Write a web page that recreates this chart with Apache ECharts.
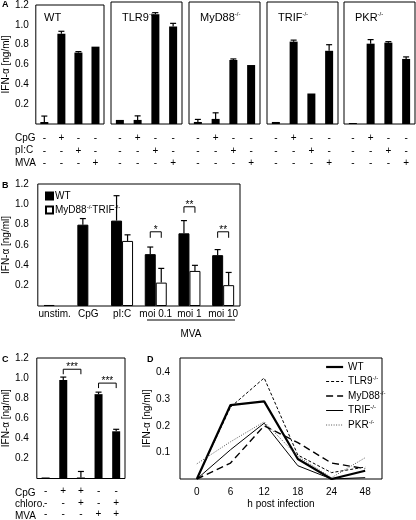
<!DOCTYPE html>
<html><head><meta charset="utf-8">
<script src="https://cdn.jsdelivr.net/npm/echarts@6/dist/echarts.min.js"></script>
<style>html,body{margin:0;padding:0;background:#fff}#c{width:416px;height:520px}</style>
</head><body><div id="c"></div>
<script>
// ---------- DATA ----------
// Panel A
const aNames = ['WT', 'TLR9', 'MyD88', 'TRIF', 'PKR'];
const aSup = ['', '-/-', '-/-', '-/-', '-/-'];
const aCats = ['c1', 'c2', 'c3', 'c4'];
const aCpG = ['-', '+', '-', '-'];
const aPIC = ['-', '-', '+', '-'];
const aMVA = ['-', '-', '-', '+'];
const aRowLabels = ['CpG', 'pI:C', 'MVA'];
const aWT = [0.02, 0.91, 0.72, 0.78];
const aWTErr = [0.06, 0.025, 0.01, 0];
const aTLR9 = [0.04, 0.04, 1.08, 0.96];
const aTLR9Err = [0, 0.04, 0.015, 0.03];
const aMyD88 = [0.02, 0.05, 0.63, 0.58];
const aMyD88Err = [0.025, 0.06, 0.01, 0];
const aTRIF = [0.02, 0.81, 0.30, 0.72];
const aTRIFErr = [0, 0.015, 0, 0.06];
const aPKR = [0.01, 0.79, 0.80, 0.64];
const aPKRErr = [0, 0.04, 0.01, 0.02];
// Panel B
const bCats = ['unstim.', 'CpG', 'pI:C', 'moi 0.1', 'moi 1', 'moi 10'];
const bWT = [0.01, 0.80, 0.84, 0.51, 0.715, 0.50];
const bWTErr = [0, 0.06, 0.245, 0.07, 0.125, 0.055];
const bKO = [null, null, 0.64, 0.23, 0.345, 0.205];
const bKOErr = [0, 0, 0.06, 0.14, 0.055, 0.125];
const bSigCat = [3, 4, 5];
const bSigLevel = [0.73, 0.976, 0.73];
const bSigLabel = ['*', '**', '**'];
// Panel C
const cCats = ['c1', 'c2', 'c3', 'c4', 'c5'];
const cCpG = ['-', '+', '+', '-', '-'];
const cChloro = ['-', '-', '+', '-', '+'];
const cMVA = ['-', '-', '-', '+', '+'];
const cRowLabels = ['CpG', 'chloro.', 'MVA'];
const cVals = [0.01, 0.98, 0.01, 0.84, 0.47];
const cErr = [0, 0.03, 0.06, 0.02, 0.02];
const cSigFrom = [1, 3];
const cSigTo = [2, 4];
const cSigLevel = [1.088, 0.95];
const cSigLabel = ['***', '***'];
// Panel D
const dHours = ['0', '6', '12', '18', '24', '48'];
const dWT = [0, 0.278, 0.292, 0.075, 0, 0.031];
const dTLR9 = [0, 0.27, 0.38, 0.09, 0.024, 0.045];
const dMyD88 = [0, 0.06, 0.2, 0.137, 0.06, 0.039];
const dTRIF = [0, 0.11, 0.21, 0.05, 0, 0.005];
const dPKR = [0.057, 0.14, 0.215, 0.085, 0.005, 0.08];
const yTitle = 'IFN-\u03b1 [ng/ml]';

// ---------- LAYOUT / STYLE ----------
const FF = '"Liberation Sans", Arial, Helvetica, sans-serif';
const aVals = [aWT, aTLR9, aMyD88, aTRIF, aPKR];
const aErrs = [aWTErr, aTLR9Err, aMyD88Err, aTRIFErr, aPKRErr];
const aLeft = [33, 111, 189, 267, 344];
const supRich = {
  n: {fontSize: 10, color: '#000', fontFamily: FF, lineHeight: 12},
  s: {fontSize: 6, color: '#000', fontFamily: FF, verticalAlign: 'top', lineHeight: 12}
};
const titleRich = {
  n: {fontSize: 11, color: '#000', fontFamily: FF, fontWeight: 'normal', lineHeight: 14},
  s: {fontSize: 6, color: '#000', fontFamily: FF, fontWeight: 'normal', verticalAlign: 'top', lineHeight: 14}
};

function errRender(offset) {
  return function (params, api) {
    const x = api.value(0), v = api.value(1), e = api.value(2);
    if (v == null || isNaN(v) || !e) return null;
    const p0 = api.coord([x, v]), p1 = api.coord([x, v + e]);
    const cx = p0[0] + offset, w = 3;
    return {type: 'group', children: [
      {type: 'line', shape: {x1: cx, y1: p0[1], x2: cx, y2: p1[1]}, style: {stroke: '#000', lineWidth: 1.2}},
      {type: 'line', shape: {x1: cx - w, y1: p1[1], x2: cx + w, y2: p1[1]}, style: {stroke: '#000', lineWidth: 1.2}}
    ]};
  };
}

const grids = [], xAxes = [], yAxes = [], series = [], titles = [];
const valAxisBase = (gi, showLabels, max, nameGap, showName) => ({
  type: 'value', gridIndex: gi, min: 0, max: max, interval: max > 1 ? 0.2 : 0.1,
  splitLine: {show: false}, axisTick: {show: false}, axisLine: {show: false},
  axisLabel: {show: showLabels, showMinLabel: false, showMaxLabel: max > 1, color: '#000', fontSize: 10, fontFamily: FF,
    margin: 7, formatter: v => v.toFixed(1)},
  name: showName ? yTitle : '', nameLocation: 'middle', nameGap: nameGap,
  nameTextStyle: {color: '#000', fontSize: 10, fontFamily: FF}
});

// Panel A
aNames.forEach((g, i) => {
  grids.push({left: aLeft[i], top: 2, width: 71, height: 122, show: true, borderColor: '#000', borderWidth: 1, backgroundColor: 'transparent'});
  xAxes.push({type: 'category', gridIndex: i, data: aCats, axisTick: {show: false}, axisLine: {show: false},
    axisLabel: {interval: 0, color: '#000', fontSize: 10, fontFamily: FF, lineHeight: 12.5, margin: 8,
      formatter: (v, idx) => aCpG[idx] + '\n' + aPIC[idx] + '\n' + aMVA[idx]}});
  yAxes.push(valAxisBase(i, i === 0, 1.2, 22, i === 0));
  series.push({type: 'bar', xAxisIndex: i, yAxisIndex: i, data: aVals[i], barWidth: 8, itemStyle: {color: '#000'}, silent: true});
  series.push({type: 'custom', xAxisIndex: i, yAxisIndex: i, renderItem: errRender(0), encode: {x: 0, y: 1},
    data: aVals[i].map((v, k) => [k, v, aErrs[i][k]]), z: 5, silent: true});
  titles.push({left: aLeft[i] + 6, top: 6, text: aSup[i] ? `{n|${g}}{s|${aSup[i]}}` : `{n|${g}}`,
    textStyle: {rich: titleRich}});
});

// Panel B (grid 5)
grids.push({left: 35, top: 184, width: 205, height: 122, show: true, borderColor: '#000', borderWidth: 1, backgroundColor: 'transparent'});
xAxes.push({type: 'category', gridIndex: 5, data: bCats, axisTick: {show: false}, axisLine: {show: false},
  axisLabel: {interval: 0, color: '#000', fontSize: 10, fontFamily: FF, margin: 3}});
yAxes.push(valAxisBase(5, true, 1.2, 24, true));
yAxes[5].axisLabel.margin = 9;
series.push({name: 'B:WT', type: 'bar', xAxisIndex: 5, yAxisIndex: 5, data: bWT, barWidth: 11, barGap: '0%',
  itemStyle: {color: '#000', borderColor: '#000', borderWidth: 1}, silent: true});
series.push({name: 'B:KO', type: 'bar', xAxisIndex: 5, yAxisIndex: 5, data: bKO, barWidth: 11, barGap: '0%',
  itemStyle: {color: '#fff', borderColor: '#000', borderWidth: 1}, silent: true});
series.push({type: 'custom', xAxisIndex: 5, yAxisIndex: 5, renderItem: errRender(-5.5), encode: {x: 0, y: 1},
  data: bWT.map((v, k) => [k, v, bWTErr[k]]), z: 5, silent: true});
series.push({type: 'custom', xAxisIndex: 5, yAxisIndex: 5, renderItem: errRender(5.5), encode: {x: 0, y: 1},
  data: bKO.map((v, k) => [k, v == null ? NaN : v, bKOErr[k]]), z: 5, silent: true});
series.push({type: 'custom', xAxisIndex: 5, yAxisIndex: 5, encode: {x: 0, y: 1}, z: 6, silent: true,
  data: bSigCat.map((c, k) => [c, bSigLevel[k]]),
  renderItem: function (params, api) {
    const k = params.dataIndex;
    const p = api.coord([api.value(0), api.value(1)]);
    const h = 5.5, d = 6;
    return {type: 'group', children: [
      {type: 'polyline', shape: {points: [[p[0] - h, p[1] + d], [p[0] - h, p[1]], [p[0] + h, p[1]], [p[0] + h, p[1] + d]]},
        style: {stroke: '#000', fill: null, lineWidth: 1}},
      {type: 'text', x: p[0], y: p[1] + 3, style: {text: bSigLabel[k], align: 'center', verticalAlign: 'bottom',
        fontSize: 10, fontFamily: FF, fill: '#000'}}
    ]};
  }});

// Panel C (grid 6)
grids.push({left: 35, top: 358, width: 90, height: 122, show: true, borderColor: '#000', borderWidth: 1, backgroundColor: 'transparent'});
xAxes.push({type: 'category', gridIndex: 6, data: cCats, axisTick: {show: false}, axisLine: {show: false},
  axisLabel: {interval: 0, color: '#000', fontSize: 10, fontFamily: FF, lineHeight: 11.5, margin: 7,
    formatter: (v, idx) => cCpG[idx] + '\n' + cChloro[idx] + '\n' + cMVA[idx]}});
yAxes.push(valAxisBase(6, true, 1.2, 24, true));
yAxes[6].axisLabel.margin = 8;
series.push({type: 'bar', xAxisIndex: 6, yAxisIndex: 6, data: cVals, barWidth: 8, itemStyle: {color: '#000'}, silent: true});
series.push({type: 'custom', xAxisIndex: 6, yAxisIndex: 6, renderItem: errRender(0), encode: {x: 0, y: 1},
  data: cVals.map((v, k) => [k, v, cErr[k]]), z: 5, silent: true});
series.push({type: 'custom', xAxisIndex: 6, yAxisIndex: 6, encode: {x: 0, y: 2}, z: 6, silent: true,
  data: cSigFrom.map((f, k) => [f, cSigTo[k], cSigLevel[k]]),
  renderItem: function (params, api) {
    const k = params.dataIndex;
    const p1 = api.coord([api.value(0), api.value(2)]);
    const p2 = api.coord([api.value(1), api.value(2)]);
    const d = 5;
    return {type: 'group', children: [
      {type: 'polyline', shape: {points: [[p1[0], p1[1] + d], [p1[0], p1[1]], [p2[0], p2[1]], [p2[0], p2[1] + d]]},
        style: {stroke: '#000', fill: null, lineWidth: 1}},
      {type: 'text', x: (p1[0] + p2[0]) / 2, y: p1[1] + 3, style: {text: cSigLabel[k], align: 'center', verticalAlign: 'bottom',
        fontSize: 10, fontFamily: FF, fill: '#000'}}
    ]};
  }});

// Panel D (grid 7)
grids.push({left: 180, top: 358, width: 202, height: 121, show: true, borderColor: '#000', borderWidth: 1, backgroundColor: 'transparent'});
xAxes.push({type: 'category', gridIndex: 7, data: dHours, boundaryGap: true, axisTick: {show: false}, axisLine: {show: false},
  axisLabel: {interval: 0, color: '#000', fontSize: 10, fontFamily: FF, margin: 8},
  name: 'h post infection', nameLocation: 'middle', nameGap: 20, nameTextStyle: {color: '#000', fontSize: 10, fontFamily: FF}});
const dY = valAxisBase(7, true, 0.455, 27, true);
dY.axisLabel.showMaxLabel = false;
dY.axisLabel.margin = 10;
yAxes.push(dY);
const dSeries = [
  ['D:WT', dWT, {color: '#000', width: 2.2, type: 'solid'}],
  ['D:TLR9', dTLR9, {color: '#000', width: 1, type: [3, 2]}],
  ['D:MyD88', dMyD88, {color: '#000', width: 1.4, type: [7, 4]}],
  ['D:TRIF', dTRIF, {color: '#000', width: 1, type: 'solid'}],
  ['D:PKR', dPKR, {color: '#555', width: 1, type: [1, 1.5]}]
];
dSeries.forEach(([n, d, ls]) => {
  series.push({name: n, type: 'line', xAxisIndex: 7, yAxisIndex: 7, data: d, symbol: 'none', lineStyle: ls,
    itemStyle: {color: ls.color}, silent: true});
});

const legendFmt = name => {
  if (name === 'B:WT' || name === 'D:WT') return '{n|WT}';
  if (name === 'B:KO') return '{n|MyD88}{s|-/-}{n|TRIF}{s|-/-}';
  return '{n|' + name.slice(2) + '}{s|-/-}';
};

const option = {
  animation: false,
  backgroundColor: '#fff',
  textStyle: {fontFamily: FF},
  title: titles,
  grid: grids, xAxis: xAxes, yAxis: yAxes, series: series,
  legend: [
    {data: ['B:WT', 'B:KO'], orient: 'vertical', left: 40, top: 186, icon: 'rect', itemWidth: 7, itemHeight: 7, itemGap: 3,
      selectedMode: false, formatter: legendFmt, textStyle: {rich: supRich, padding: [0, 0, 0, -3]}},
    {data: dSeries.map(s => ({name: s[0], lineStyle: {width: s[2].width, type: s[2].type, color: s[2].color}})),
      orient: 'vertical', left: 320, top: 357, itemWidth: 17, itemHeight: 10, itemGap: 3.5,
      selectedMode: false, formatter: legendFmt, textStyle: {rich: supRich},
      itemStyle: {opacity: 0, borderWidth: 0}}
  ],
  graphic: [
    {type: 'text', x: 2, y: 5, style: {text: 'A', font: 'bold 9px ' + FF, fill: '#000', verticalAlign: 'middle'}},
    {type: 'text', x: 2, y: 186, style: {text: 'B', font: 'bold 9px ' + FF, fill: '#000', verticalAlign: 'middle'}},
    {type: 'text', x: 2, y: 360, style: {text: 'C', font: 'bold 9px ' + FF, fill: '#000', verticalAlign: 'middle'}},
    {type: 'text', x: 147, y: 360, style: {text: 'D', font: 'bold 9px ' + FF, fill: '#000', verticalAlign: 'middle'}},
    ...aRowLabels.map((t, k) => ({type: 'text', x: 15, y: 138 + k * 12.5, style: {text: t, font: '10px ' + FF, fill: '#000', verticalAlign: 'middle'}})),
    ...cRowLabels.map((t, k) => ({type: 'text', x: 15, y: 493 + k * 11.5, style: {text: t, font: '10px ' + FF, fill: '#000', verticalAlign: 'middle'}})),
    {type: 'line', shape: {x1: 147, y1: 320, x2: 235, y2: 320}, style: {stroke: '#000', lineWidth: 1}},
    {type: 'text', x: 191, y: 334, style: {text: 'MVA', font: '10px ' + FF, fill: '#000', align: 'center', verticalAlign: 'middle'}}
  ]
};
const chart = echarts.init(document.getElementById('c'), null, {renderer: 'canvas'});
chart.setOption(option);
</script>
</body></html>
